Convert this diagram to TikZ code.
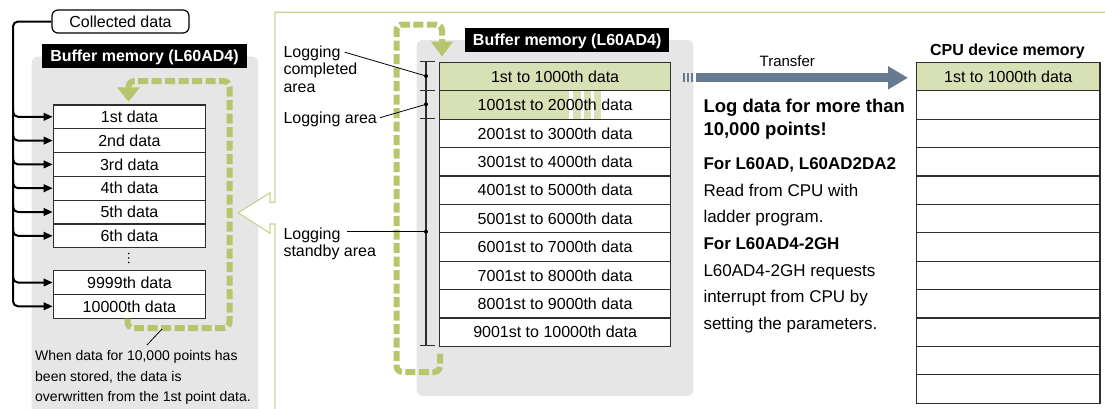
\documentclass[tikz,border=0pt]{standalone}
\usepackage{fontspec}
\setmainfont{Liberation Sans}
\usetikzlibrary{arrows.meta,calc}
\definecolor{panelgray}{HTML}{E6E6E6}
\definecolor{dashg}{HTML}{B5C66C}
\definecolor{fillg}{HTML}{D8E0B6}
\definecolor{borderg}{HTML}{C8D595}
\definecolor{xferc}{HTML}{667A92}
\definecolor{linec}{HTML}{2E2E2E}
\newcommand\myfA{\fontsize{16}{19}\selectfont}
\newcommand\myfB{\fontsize{14}{17}\selectfont}
\newcommand\myfC{\fontsize{17}{20}\selectfont}
\newcommand\myfD{\fontsize{18.5}{22}\selectfont}
\newcommand\myfE{\fontsize{15}{18}\selectfont}
\begin{document}
\begin{tikzpicture}[x=1pt,y=-1pt,
  lcell/.style={draw=linec,line width=1.2pt,minimum width=152.3pt,minimum height=23.8pt,inner sep=0pt,anchor=north west,font=\myfA,text height=11.5pt,text depth=0pt,fill=white},
  rcell/.style={lcell,minimum width=231pt,minimum height=28.4pt},
  ccell/.style={lcell,minimum width=183.3pt,minimum height=28.4pt},
  blacktitle/.style={fill=black,text=white,font=\myfA\bfseries,minimum width=204.4pt,minimum height=23.4pt,inner sep=0pt,text height=11.5pt,text depth=0pt},
  feed/.style={draw=black,line width=2pt,rounded corners=5pt,-{Triangle[length=9pt,width=7.5pt]}},
  greenloop/.style={draw=dashg,line width=6pt,dash pattern=on 10pt off 3.5pt,rounded corners=6pt},
  lbl/.style={anchor=base west,inner sep=0pt,font=\myfA},
  rtxt/.style={anchor=base west,inner sep=0pt,font=\myfC},
  rbold/.style={anchor=base west,inner sep=0pt,font=\myfC\bfseries},
  leader/.style={draw=black,line width=0.8pt},
  dotc/.style={circle,fill=black,inner sep=0pt,minimum size=4pt},
  tick/.style={draw=linec,line width=1.2pt},
]
\useasboundingbox (0,0) rectangle (1105,408);

% panels
\fill[panelgray,rounded corners=6pt] (31.7,56.7) rectangle (258.3,416);
\fill[panelgray,rounded corners=6pt] (416.7,40) rectangle (693.3,396);

% right panel border with hollow arrow
\fill[white] (275,202.3) -- (270,202.3) -- (270,192.7) -- (238.3,212.7) -- (270,233.3) -- (270,224) -- (275,224) -- cycle;
\draw[borderg,line width=1.2pt] (1110,12.3) -- (275,12.3) -- (275,202.3) -- (270,202.3) -- (270,192.7) -- (238.3,212.7) -- (270,233.3) -- (270,224) -- (275,224) -- (275,412);

% ---------- left part ----------
\node[draw=black,line width=1.2pt,rounded corners=6pt,minimum width=137pt,minimum height=23pt,inner sep=0pt,font=\myfA,text height=11.5pt,text depth=0pt,fill=white] (cd) at (120.5,21.5) {Collected data};
\node[blacktitle] (bt1) at (144.5,55.8) {Buffer memory (L60AD4)};

\node[lcell] (d1) at (52.7,104.3) {1st data};
\node[lcell] (d2) at (52.7,128.1) {2nd data};
\node[lcell] (d3) at (52.7,151.9) {3rd data};
\node[lcell] (d4) at (52.7,175.7) {4th data};
\node[lcell] (d5) at (52.7,199.5) {5th data};
\node[lcell] (d6) at (52.7,223.3) {6th data};
\node[lcell] (d9) at (52.7,270) {9999th data};
\node[lcell] (d10) at (52.7,293.8) {10000th data};

\fill (128.7,253.5) circle (0.9pt);
\fill (128.7,258) circle (0.9pt);
\fill (128.7,262.5) circle (0.9pt);

\coordinate (trunk) at (13,0);
\draw[feed] (cd.west) -| (trunk |- d10.west) -- (d10.west);
\foreach \n in {d1,d2,d3,d4,d5,d6,d9}{
  \draw[feed] ([yshift=8pt]trunk |- \n.west) |- (\n.west);
}

% left loop
\draw[greenloop] (127.5,318.5) -- (127.5,328) -- (229.5,328) -- (229.5,81) -- (128.5,81) -- (128.5,89);
\fill[dashg] (117,87.3) -- (140,87.3) -- (128.5,101.7) -- cycle;

\coordinate (la) at (162,329);
\coordinate (lb) at (147,345);
\draw[leader] (la) -- (lb);
\node[anchor=base west,inner sep=0pt,font=\myfB] (w1) at (35,360) {When data for 10,000 points has};
\node[anchor=base west,inner sep=0pt,font=\myfB] (w2) at (35,381.3) {been stored, the data is};
\node[anchor=base west,inner sep=0pt,font=\myfB] (w3) at (35,401.7) {overwritten from the 1st point data.};

% ---------- right part ----------
% right loop
\draw[greenloop] (440,353.5) -- (440,372) -- (396.5,372) -- (396.5,24.5) -- (442,24.5) -- (442,43);
\fill[dashg] (431,41.7) -- (453,41.7) -- (442,56.5) -- cycle;

\node[blacktitle] (bt2) at (567.2,40) {Buffer memory (L60AD4)};

% partial fill of row 2
\fill[white] (439,90.1) rectangle (670,118.5);
\fill[fillg] (439,90.1) rectangle (569,118.5);
\fill[fillg] (573.3,90.1) rectangle (580.7,118.5);
\fill[fillg] (583.5,90.1) rectangle (590.5,118.5);
\fill[fillg] (594,90.1) rectangle (601,118.5);

\node[rcell,fill=fillg] (r1) at (439,61.7) {1st to 1000th data};
\node[rcell,fill=none] (r2) at (439,90.1) {1001st to 2000th data};
\node[rcell] (r3) at (439,118.5) {2001st to 3000th data};
\node[rcell] (r4) at (439,146.9) {3001st to 4000th data};
\node[rcell] (r5) at (439,175.3) {4001st to 5000th data};
\node[rcell] (r6) at (439,203.7) {5001st to 6000th data};
\node[rcell] (r7) at (439,232.1) {6001st to 7000th data};
\node[rcell] (r8) at (439,260.5) {7001st to 8000th data};
\node[rcell] (r9) at (439,288.9) {8001st to 9000th data};
\node[rcell] (r10) at (439,317.3) {9001st to 10000th data};

% bracket
\draw[tick] (426,61.7) -- (426,345.7);
\foreach \y in {61.7,90.1,118.5,345.7}{\draw[tick] (420,\y) -- (435,\y);}
\node[dotc] (p1) at (426,76) {};
\node[dotc] (p2) at (426,104.3) {};
\node[dotc] (p3) at (426,231.7) {};

\node[lbl] (lab1) at (283.3,57.3) {Logging};
\node[lbl] (lab1b) at (283.3,74) {completed};
\node[lbl] (lab1c) at (283.3,92.7) {area};
\node[lbl] (lab2) at (283.3,123.3) {Logging area};
\node[lbl] (lab3) at (283.3,239) {Logging};
\node[lbl] (lab3b) at (283.3,256) {standby area};
\draw[leader] ([xshift=4pt,yshift=1pt]lab1.east) -- (p1);
\draw[leader] ([xshift=3pt,yshift=1.5pt]lab2.east) -- (p2);
\draw[leader] ([xshift=6pt]p3 -| lab3.east) -- (p3);

% CPU table
\node[font=\myfA\bfseries,anchor=base,inner sep=0pt] (ct) at (1007.5,55.5) {CPU device memory};
\node[ccell,fill=fillg] (c1) at (916,61.7) {1st to 1000th data};
\node[ccell] (c2) at (916,90.1) {};
\node[ccell] (c3) at (916,118.5) {};
\node[ccell] (c4) at (916,146.9) {};
\node[ccell] (c5) at (916,175.3) {};
\node[ccell] (c6) at (916,203.7) {};
\node[ccell] (c7) at (916,232.1) {};
\node[ccell] (c8) at (916,260.5) {};
\node[ccell] (c9) at (916,288.9) {};
\node[ccell] (c10) at (916,317.3) {};
\node[ccell] (c11) at (916,345.7) {};
\node[ccell] (c12) at (916,374.1) {};

% transfer arrow
\fill[xferc] (682.7,72.7) rectangle (685.3,81.7);
\fill[xferc] (686.7,72.7) rectangle (689.3,81.7);
\fill[xferc] (690.7,72.7) rectangle (693.3,81.7);
\draw[xferc,line width=9pt,-{Triangle[length=20pt,width=22pt]}] ([xshift=25pt,yshift=-1.3pt]r1.east) -- ([xshift=-8pt,yshift=-1.3pt]c1.west);
\node[font=\myfE,anchor=base,inner sep=0pt] (tl) at (787.3,66.7) {Transfer};

% right text
\node[anchor=base west,inner sep=0pt,font=\myfD\bfseries] (t1) at (703.3,112.3) {Log data for more than};
\node[anchor=base west,inner sep=0pt,font=\myfD\bfseries] (t2) at (703.3,135) {10,000 points!};
\node[rbold] (t3) at (703.3,169.3) {For L60AD, L60AD2DA2};
\node[rtxt] (t4) at (703.3,196) {Read from CPU with};
\node[rtxt] (t5) at (703.3,222.7) {ladder program.};
\node[rbold] (t6) at (703.3,249.4) {For L60AD4-2GH};
\node[rtxt] (t7) at (703.3,276.1) {L60AD4-2GH requests};
\node[rtxt] (t8) at (703.3,302.8) {interrupt from CPU by};
\node[rtxt] (t9) at (703.3,329.5) {setting the parameters.};
\end{tikzpicture}
\end{document}
